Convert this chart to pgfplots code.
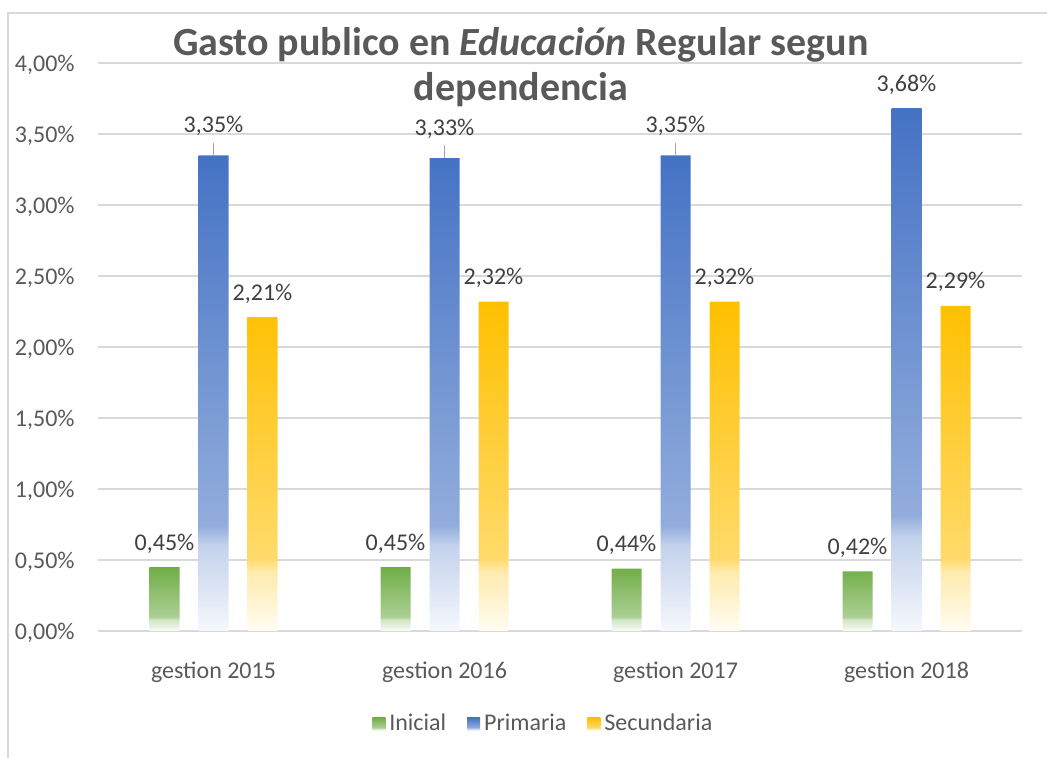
\documentclass[border=0pt]{standalone}
\usepackage{fontspec}
\setmainfont{Carlito}
\usepackage{pgfplots}
\pgfplotsset{compat=1.18}

\definecolor{cI}{HTML}{70AD47}
\definecolor{cP}{HTML}{4472C4}
\definecolor{cS}{HTML}{FFC000}
\definecolor{txt}{HTML}{595959}
\definecolor{lab}{HTML}{404040}
\definecolor{gridc}{HTML}{D9D9D9}
\definecolor{leadc}{HTML}{A6A6A6}
\colorlet{cIa}{cI!5}\colorlet{cIb}{cI!32}\colorlet{cIc}{cI!58}
\colorlet{cPa}{cP!5}\colorlet{cPb}{cP!32}\colorlet{cPc}{cP!58}
\colorlet{cSa}{cS!5}\colorlet{cSb}{cS!32}\colorlet{cSc}{cS!58}

% fade to white towards the bottom of each bar
\pgfdeclareverticalshading{fadeI}{100bp}{color(0bp)=(cIa); color(25bp)=(cIa); color(34bp)=(cIb); color(36bp)=(cIc); color(75bp)=(cI); color(100bp)=(cI)}
\pgfdeclareverticalshading{fadeP}{100bp}{color(0bp)=(cPa); color(25bp)=(cPa); color(34bp)=(cPb); color(36bp)=(cPc); color(75bp)=(cP); color(100bp)=(cP)}
\pgfdeclareverticalshading{fadeS}{100bp}{color(0bp)=(cSa); color(25bp)=(cSa); color(34bp)=(cSb); color(36bp)=(cSc); color(75bp)=(cS); color(100bp)=(cS)}

\pgfplotsset{
  /pgf/number format/.cd, use comma, 1000 sep={}, assume math mode=true,
}
\newcommand{\pct}{\pgfmathprintnumber[fixed,fixed zerofill,precision=2]{\pgfplotspointmeta}\%}

\begin{document}
\begin{tikzpicture}
\useasboundingbox (-49pt,-63.5pt) rectangle (474.5pt,315.5pt);
\draw[gridc, line width=0.75pt] (474.5pt,309pt) -- (-45pt,309pt) -- (-45pt,-63.5pt);

\begin{axis}[
  scale only axis, width=462pt, height=284pt,
  xmin=-0.5, xmax=3.5, ymin=0, ymax=4,
  ybar, bar width=15pt,
  xtick={0,1,2,3},
  xticklabels={gestion 2015,gestion 2016,gestion 2017,gestion 2018},
  ytick={0,0.5,1,1.5,2,2.5,3,3.5,4},
  yticklabel={\pgfmathprintnumber[fixed,fixed zerofill,precision=2]{\tick}\%},
  axis line style={draw=none},
  tick style={draw=none},
  ymajorgrids, grid style={draw=gridc, line width=0.75pt},
  tick label style={font=\fontsize{12}{14}\selectfont, text=txt},
  xticklabel style={anchor=base, yshift=-19.5pt},
  yticklabel style={anchor=base east, inner sep=0pt, xshift=-11.5pt, yshift=-4.5pt},
  legend style={at={(0.483,-0.164)}, anchor=center, draw=none, fill=none,
    legend columns=-1, font=\fontsize{12}{14}\selectfont, text=txt,
    /tikz/every even column/.append style={column sep=8.5pt}},
  legend image code/.code={\path[#1, draw=none] (0pt,-3.25pt) rectangle (6.5pt,3.25pt);},
  every node near coord/.append style={font=\fontsize{12}{14}\selectfont, text=lab, anchor=base, inner sep=0pt},
]
\addplot[draw=none, shade, shading=fadeI, bar shift=-24.5pt,
  nodes near coords=\pct, nodes near coords style={anchor=base, yshift=8.5pt}]
  coordinates {(0,0.45) (1,0.45) (2,0.44) (3,0.42)};
\addlegendentry{Inicial}
\addplot[draw=none, shade, shading=fadeP, bar shift=0pt,
  nodes near coords=\pct, nodes near coords style={anchor=base, yshift=11.5pt}]
  coordinates {(0,3.35) (1,3.33) (2,3.35)};
\addlegendentry{Primaria}
\addplot[forget plot, draw=none, shade, shading=fadeP, bar shift=0pt,
  nodes near coords=\pct, nodes near coords style={anchor=base, yshift=8.5pt}]
  coordinates {(3,3.68)};
\addplot[forget plot, draw=none, fill=none, bar shift=0pt,
  error bars/.cd, y dir=plus, y fixed=0.09, error mark=none,
  error bar style={draw=leadc, line width=0.75pt}]
  coordinates {(0,3.35) (1,3.33) (2,3.35)};
\addplot[draw=none, shade, shading=fadeS, bar shift=24.5pt,
  nodes near coords=\pct, nodes near coords style={anchor=base, yshift=8.5pt}]
  coordinates {(0,2.21) (1,2.32) (2,2.32) (3,2.29)};
\addlegendentry{Secundaria}
\end{axis}

\node[anchor=base, text=txt, font=\fontsize{20}{24}\selectfont\bfseries] at (211.5pt,287.5pt)
  {Gasto publico en \textit{Educación} Regular segun};
\node[anchor=base, text=txt, font=\fontsize{20}{24}\selectfont\bfseries] at (211.5pt,265pt)
  {dependencia};
\end{tikzpicture}
\end{document}
